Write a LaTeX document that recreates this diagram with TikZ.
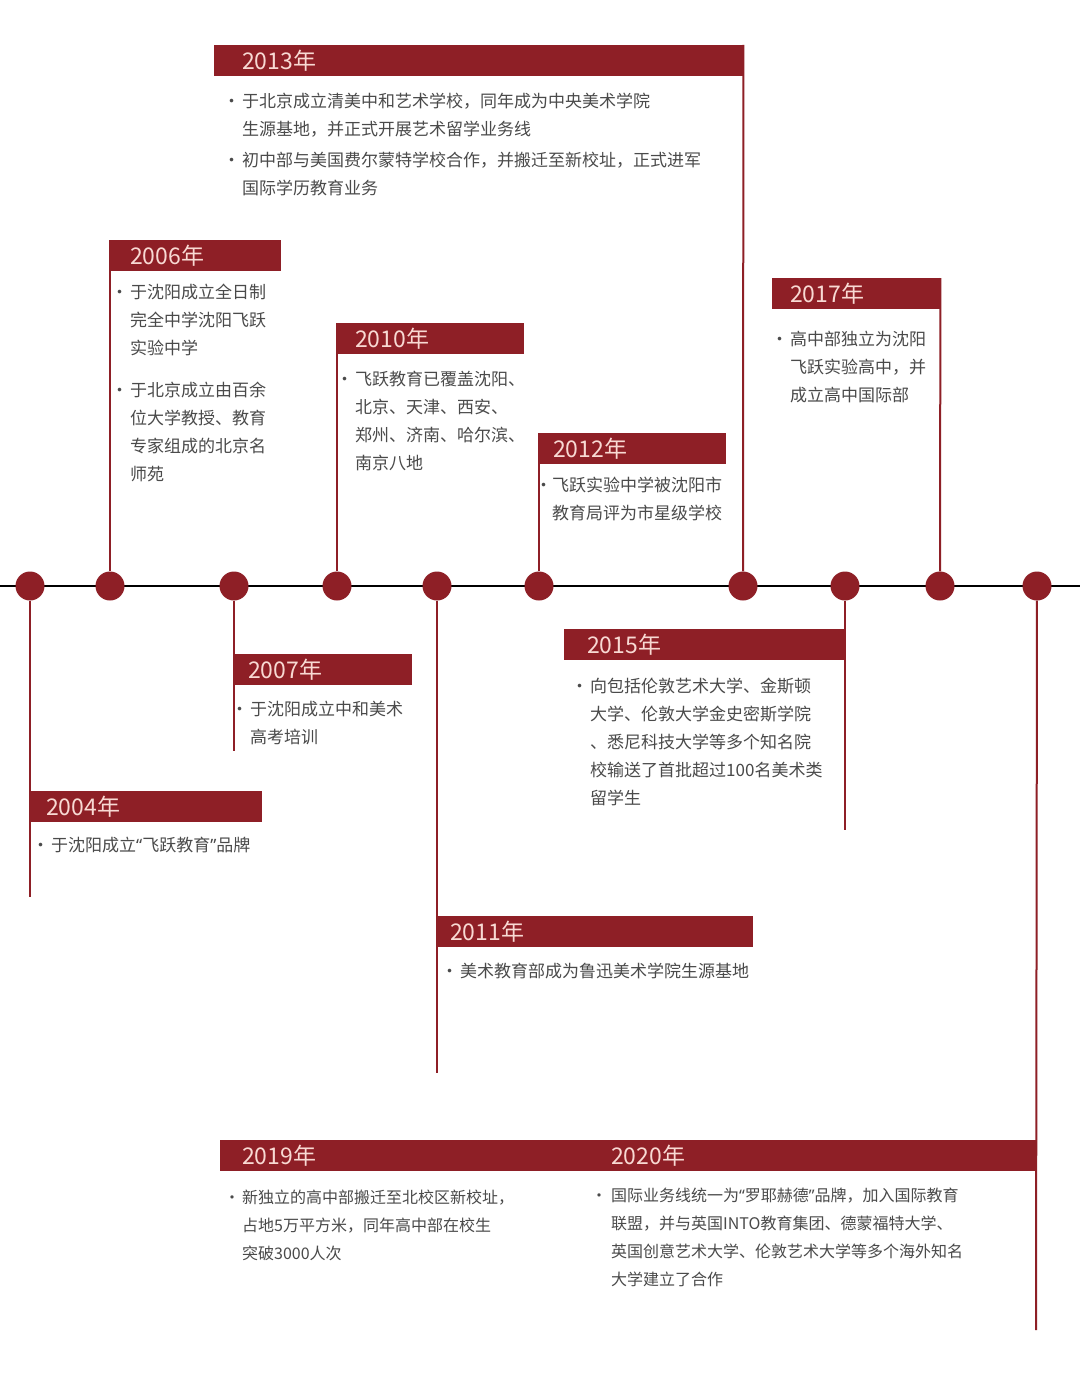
\documentclass[tikz,border=0pt]{standalone}
\usepackage{fontspec}
\setmainfont{Noto Sans CJK SC}
\newfontfamily\latinq{Noto Sans}
\usetikzlibrary{positioning}
\definecolor{brick}{HTML}{8E1F26}
\definecolor{blush}{HTML}{F8D9D3}
\definecolor{ink}{HTML}{4A4A4A}
\tikzset{
  bead/.style={circle, fill=brick, inner sep=0pt, minimum size=29pt},
  yearbar/.style={fill=brick, anchor=north west, inner sep=0pt, minimum height=31pt},
  yr/.style={anchor=west, text=blush, inner sep=0pt, font=\fontsize{23}{28}\selectfont},
  txt/.style={anchor=north west, align=left, text=ink, inner sep=0pt, font=\fontsize{17}{28}\selectfont},
  riser/.style={brick, line width=2pt},
}
\newcommand{\bul}[1][2pt]{\llap{·\hspace{#1}}}
\newcommand{\oq}{{\latinq “}}
\newcommand{\cq}{{\latinq ”}}

\begin{document}
\begin{tikzpicture}[x=1pt, y=-1pt]
  \useasboundingbox (0,0) rectangle (1080,1375);
  \fill[white] (0,0) rectangle (1080,1375);
  \coordinate (tl) at (0,586);
  \coordinate (tr) at (1080,586);
  \draw[line width=2.8pt] (tl) -- (tr);

  % year bars
  \node[yearbar, minimum width=232pt] (y04) at (30,791) {};
  \node[yearbar, minimum width=171pt] (y06) at (110,240) {};
  \node[yearbar, minimum width=178pt] (y07) at (234,654) {};
  \node[yearbar, minimum width=187pt] (y10) at (337,323) {};
  \node[yearbar, minimum width=316pt] (y11) at (437,916) {};
  \node[yearbar, minimum width=187pt] (y12) at (539,433) {};
  \node[yearbar, minimum width=529pt] (y13) at (214,45) {};
  \node[yearbar, minimum width=281pt] (y15) at (564,629) {};
  \node[yearbar, minimum width=168pt] (y17) at (772,278) {};
  \node[yearbar, minimum width=816pt] (y20) at (220,1140) {};

  \node[yr] at ([xshift=16pt]y04.west) {2004年};
  \node[yr] at ([xshift=20pt]y06.west) {2006年};
  \node[yr] at ([xshift=14pt]y07.west) {2007年};
  \node[yr] at ([xshift=18pt]y10.west) {2010年};
  \node[yr] at ([xshift=13pt]y11.west) {2011年};
  \node[yr] at ([xshift=14pt]y12.west) {2012年};
  \node[yr] at ([xshift=28pt]y13.west) {2013年};
  \node[yr] at ([xshift=23pt]y15.west) {2015年};
  \node[yr] at ([xshift=18pt]y17.west) {2017年};
  \node[yr] at ([xshift=22pt]y20.west) {2019年};
  \node[yr] at ([xshift=391pt]y20.west) {2020年};

  % dots on the line
  \begin{scope}[every node/.style={bead}]
  \node (c1) at (30,586) {};
  \node (c2) at (110,586) {};
  \node (c3) at (234,586) {};
  \node (c4) at (337,586) {};
  \node (c5) at (437,586) {};
  \node (c6) at (539,586) {};
  \node (c7) at (743,586) {};
  \node (c8) at (845,586) {};
  \node (c9) at (940,586) {};
  \node (c10) at (1037,586) {};
  \end{scope}

  \coordinate (e04) at (30,897);
  \coordinate (e07) at (234,751);
  \coordinate (e11) at (437,1073);
  \coordinate (e15) at (845,830);
  \coordinate (e20) at (1036,1330);
  \draw[riser] (c1) -- (e04);
  \draw[riser] (c2) -- (y06.north west);
  \draw[riser] (c3) -- (e07);
  \draw[riser] (c4) -- (y10.north west);
  \draw[riser] (c5) -- (e11);
  \draw[riser] (c6) -- (y12.north west);
  \draw[riser] (c7) -- (y13.north east);
  \draw[riser] (c8) -- (e15);
  \draw[riser] (c9) -- (y17.north east);
  \draw[riser] (c10) -- (e20);

  % texts
  \node[txt] (t04) at (51,837) {\bul 于沈阳成立\oq 飞跃教育\cq 品牌};
  \node[txt] (t06) at (130,284) {\bul 于沈阳成立全日制\\完全中学沈阳飞跃\\实验中学\\[14pt]\bul 于北京成立由百余\\位大学教授、教育\\专家组成的北京名\\师苑};
  \node[txt] (t07) at (250,701) {\bul 于沈阳成立中和美术\\高考培训};
  \node[txt] (t10) at (355,371) {\bul 飞跃教育已覆盖沈阳、\\北京、天津、西安、\\郑州、济南、哈尔滨、\\南京八地};
  \node[txt] (t11) at (460,963) {\bul 美术教育部成为鲁迅美术学院生源基地};
  \node[txt] (t12) at (552,477) {\bul[0pt]飞跃实验中学被沈阳市\\教育局评为市星级学校};
  \node[txt] (t13) at (242,93) {\bul 于北京成立清美中和艺术学校，同年成为中央美术学院\\生源基地，并正式开展艺术留学业务线\\[3pt]\bul 初中部与美国费尔蒙特学校合作，并搬迁至新校址，正式进军\\国际学历教育业务};
  \node[txt] (t15) at (590,678) {\bul 向包括伦敦艺术大学、金斯顿\\大学、伦敦大学金史密斯学院\\、悉尼科技大学等多个知名院\\校输送了首批超过100名美术类\\留学生};
  \node[txt] (t17) at (790,331) {\bul 高中部独立为沈阳\\飞跃实验高中，并\\成立高中国际部};
  \node[txt, font=\fontsize{16}{28}\selectfont] (t19) at (242,1190) {\bul 新独立的高中部搬迁至北校区新校址，\\占地5万平方米，同年高中部在校生\\突破3000人次};
  \node[txt, font=\fontsize{16}{28}\selectfont] (t20) at (611,1188) {\bul[4pt]国际业务线统一为\oq 罗耶赫德\cq 品牌，加入国际教育\\联盟，并与英国INTO教育集团、德蒙福特大学、\\英国创意艺术大学、伦敦艺术大学等多个海外知名\\大学建立了合作};
\end{tikzpicture}
\end{document}
